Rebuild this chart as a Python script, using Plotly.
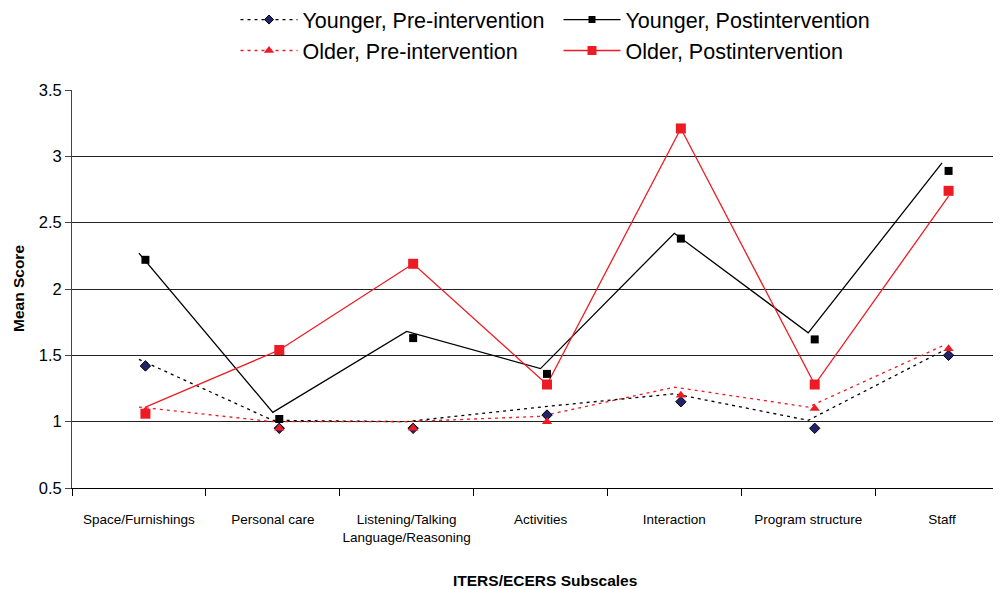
import plotly.graph_objects as go

# ---- data ----
categories = ["Space/Furnishings", "Personal care", "Listening/Talking<br>Language/Reasoning",
              "Activities", "Interaction", "Program structure", "Staff"]

series_names = ["Younger, Pre-intervention", "Younger, Postintervention",
                "Older, Pre-intervention", "Older, Postintervention"]

# values shown by the markers
younger_pre_markers = [1.42, 0.95, 0.95, 1.05, 1.15, 0.95, 1.50]
younger_post_markers = [2.22, 1.02, 1.63, 1.36, 2.38, 1.62, 2.89]
older_pre_markers = [1.08, 0.95, 0.95, 1.00, 1.20, 1.10, 1.55]
older_post_markers = [1.06, 1.54, 2.19, 1.28, 3.21, 1.28, 2.74]

# values traced by the connecting lines (drawn slightly apart from the markers in the original)
younger_pre_line = [1.47, 1.01, 1.00, 1.11, 1.21, 1.01, 1.53]
younger_post_line = [2.27, 1.07, 1.68, 1.40, 2.42, 1.67, 2.95]
older_pre_line = [1.11, 1.00, 1.00, 1.04, 1.26, 1.11, 1.57]
older_post_line = [1.11, 1.54, 2.19, 1.28, 3.21, 1.28, 2.70]

y_ticks = [0.5, 1, 1.5, 2, 2.5, 3, 3.5]

RED = "#ED1C24"
BLACK = "#000000"
NAVY = "#23236B"
FONT = "Liberation Sans, Arial, sans-serif"

fig = go.Figure()

# lines
fig.add_trace(go.Scatter(x=categories, y=younger_pre_line, mode="lines", showlegend=False,
                         line=dict(color=BLACK, width=1.3, dash="3px,4px"), hoverinfo="skip"))
fig.add_trace(go.Scatter(x=categories, y=older_pre_line, mode="lines", showlegend=False,
                         line=dict(color=RED, width=1.3, dash="3px,4px"), hoverinfo="skip"))
fig.add_trace(go.Scatter(x=categories, y=younger_post_line, mode="lines", showlegend=False,
                         line=dict(color=BLACK, width=1.3), hoverinfo="skip"))
fig.add_trace(go.Scatter(x=categories, y=older_post_line, mode="lines", showlegend=False,
                         xaxis="x2", line=dict(color=RED, width=1.3), hoverinfo="skip"))

# markers
fig.add_trace(go.Scatter(x=categories, y=younger_pre_markers, mode="markers", showlegend=False,
                         xaxis="x2", marker=dict(symbol="diamond", size=8, color=NAVY,
                                                  line=dict(color=BLACK, width=1))))
fig.add_trace(go.Scatter(x=categories, y=younger_post_markers, mode="markers", showlegend=False,
                         xaxis="x2", marker=dict(symbol="square", size=8, color=BLACK)))
fig.add_trace(go.Scatter(x=categories, y=older_pre_markers, mode="markers", showlegend=False,
                         xaxis="x2", marker=dict(symbol="triangle-up", size=9, color=RED)))
fig.add_trace(go.Scatter(x=categories, y=older_post_markers, mode="markers", showlegend=False,
                         xaxis="x2", marker=dict(symbol="square", size=10, color=RED)))

# legend entries
legend_styles = [
    dict(line=dict(color=BLACK, width=1.3, dash="3px,4px"),
         marker=dict(symbol="diamond", size=7, color=NAVY, line=dict(color=BLACK, width=1))),
    dict(line=dict(color=BLACK, width=1.3),
         marker=dict(symbol="square", size=7, color=BLACK)),
    dict(line=dict(color=RED, width=1.3, dash="3px,4px"),
         marker=dict(symbol="triangle-up", size=9, color=RED)),
    dict(line=dict(color=RED, width=1.3),
         marker=dict(symbol="square", size=9, color=RED)),
]
for name, st in zip(series_names, legend_styles):
    fig.add_trace(go.Scatter(x=[None], y=[None], mode="lines+markers", name=name, **st))

fig.update_layout(
    width=1001, height=589, autosize=False,
    margin=dict(l=64, r=0, t=82, b=109, pad=0, autoexpand=False),
    paper_bgcolor="white", plot_bgcolor="white",
    font=dict(family=FONT, color="black"),
    showlegend=True,
    legend=dict(orientation="h", x=0.1745, xanchor="left", y=1.2285, yanchor="top",
                font=dict(size=21.5, family=FONT), itemwidth=57, entrywidth=251,
                tracegroupgap=0, bgcolor="rgba(0,0,0,0)", traceorder="normal"),
    xaxis=dict(type="category", categoryorder="array", categoryarray=categories,
               range=[-0.5, 6.5], tickson="boundaries", ticks="outside", ticklen=7,
               tickcolor=BLACK, tickwidth=1, showline=True, linecolor=BLACK, linewidth=1,
               showgrid=False, zeroline=False, tickfont=dict(size=13.5, family=FONT),
               tickangle=0, automargin=False, ticklabelstandoff=19, fixedrange=True),
    xaxis2=dict(type="category", categoryorder="array", categoryarray=categories,
                overlaying="x", anchor="y", range=[-0.5486, 6.4514], visible=False,
                showgrid=False, zeroline=False, automargin=False),
    yaxis=dict(range=[0.5, 3.5], tickvals=y_ticks, ticktext=[f"{v:g}" for v in y_ticks],
               ticks="outside", ticklen=6, tickcolor="#444", showline=True, linecolor="#444",
               linewidth=1, showgrid=True, gridcolor="#222", gridwidth=1, zeroline=False,
               automargin=False, tickfont=dict(size=16.5, family=FONT)),
    annotations=[
        dict(text="<b>Mean Score</b>", xref="paper", yref="paper", x=0, y=0.5,
             xanchor="center", yanchor="middle", xshift=-54, textangle=-90, showarrow=False,
             font=dict(size=15.5, family=FONT)),
        dict(text="<b>ITERS/ECERS Subscales</b>", xref="paper", yref="paper", x=0.5048, y=0,
             xanchor="center", yanchor="middle", yshift=-92.7, showarrow=False,
             font=dict(size=15.5, family=FONT)),
    ],
)

fig.write_html("out.html")
